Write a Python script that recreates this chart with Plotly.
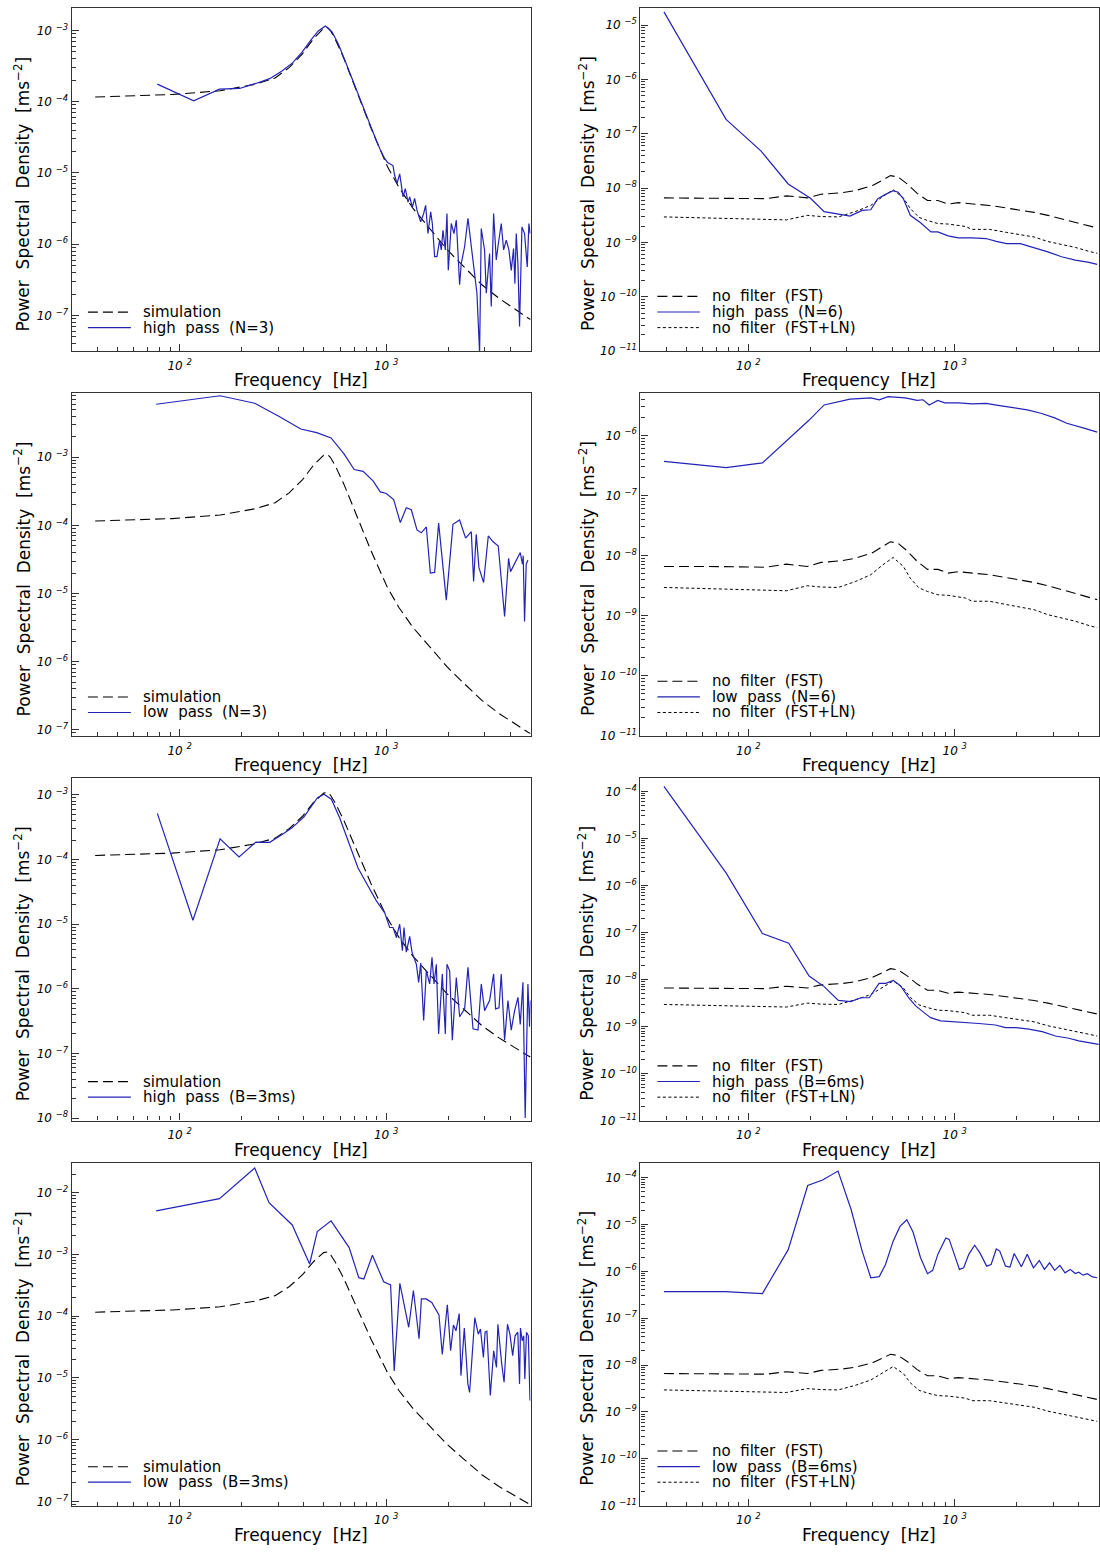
import math
import plotly.graph_objects as go

# ---------------- data ----------------
# Left column: "simulation" (same in all four left panels)
F_SIM = [39, 92, 157, 231, 290, 339, 394, 444, 498, 520, 537, 566, 625, 729, 846, 1014, 1155, 1347,
         1630, 1980, 2400, 2907, 3520, 4260, 4840, 5000]
PSD_SIM = [1.16e-4, 1.26e-4, 1.42e-4, 1.75e-4, 2.15e-4, 3.0e-4, 4.7e-4, 7.6e-4, 1.07e-3, 1.1e-3,
           1.0e-3, 7.6e-4, 4.0e-4, 1.3e-4, 4.2e-5, 1.23e-5, 6.2e-6, 3.2e-6, 1.62e-6, 8.3e-7,
           4.7e-7, 2.7e-7, 1.74e-7, 1.18e-7, 9.3e-8, 8.8e-8]

# high pass (N=3)
F_HP_N3 = [78, 117, 156, 195, 234, 273, 313, 352, 391, 430, 469, 508, 547, 586, 625, 664, 703, 742,
           781, 820, 859, 898, 938, 977, 1016, 1079, 1100, 1129, 1163, 1207, 1238, 1276, 1300, 1339,
           1374, 1410, 1469, 1519, 1553, 1594, 1643, 1673, 1717, 1762, 1815, 1849, 1884, 1934, 1970,
           1999, 2067, 2130, 2186, 2268, 2311, 2398, 2489, 2584, 2681, 2751, 2834, 2887, 2996, 3053,
           3168, 3228, 3313, 3413, 3477, 3608, 3704, 3815, 3930, 4034, 4139, 4201, 4264, 4344, 4425,
           4543, 4679, 4821, 4911, 4985]
PSD_HP_N3 = [1.76e-4, 1.03e-4, 1.5e-4, 1.53e-4, 1.8e-4, 2.1e-4, 2.7e-4, 3.5e-4, 4.9e-4, 7.2e-4,
             9.8e-4, 1.15e-3, 9.5e-4, 6.5e-4, 4.1e-4, 2.6e-4, 1.7e-4, 1.12e-4, 7.6e-5, 5.3e-5,
             3.8e-5, 2.8e-5, 2.1e-5, 1.65e-5, 1.4e-5, 1.27e-5, 9.2e-6, 7.1e-6, 9.7e-6, 4.6e-6,
             6.0e-6, 3.9e-6, 4.6e-6, 3.3e-6, 4.4e-6, 3.0e-6, 2.06e-6, 2.7e-6, 3.5e-6, 1.41e-6,
             2.84e-6, 1.95e-6, 6.7e-7, 6.7e-7, 1.14e-6, 8.3e-7, 1.57e-6, 8.3e-7, 2.7e-6, 4.3e-7,
             1.95e-6, 1.41e-6, 2.17e-6, 2.7e-7, 5.4e-7, 9.2e-7, 2.3e-6, 9.2e-7, 3.5e-7, 2.05e-7,
             3.0e-8, 1.66e-6, 8.3e-7, 2.05e-7, 7.4e-7, 1.34e-7, 2.7e-6, 6.0e-7, 9.2e-7, 1.95e-6,
             8.3e-7, 1.14e-6, 8.3e-7, 4.3e-7, 8.7e-7, 2.8e-7, 1.41e-6, 5.4e-7, 7.0e-8, 1.75e-6,
             1.41e-6, 4.8e-7, 1.95e-6, 1.41e-6]

# low pass (N=3)
F_LP_N3 = [77, 157, 231, 302, 386, 461, 541, 625, 700, 773, 864, 937, 1002, 1087, 1171, 1252, 1324,
           1410, 1480, 1565, 1636, 1717, 1795, 1955, 2106, 2268, 2425, 2584, 2651, 2730, 2814, 2964,
           3122, 3288, 3490, 3745, 3916, 4003, 4458, 4571, 4609, 4679, 4766, 4858]
PSD_LP_N3 = [6.0e-3, 8.0e-3, 6.2e-3, 4.0e-3, 2.6e-3, 2.3e-3, 1.92e-3, 1.12e-3, 6.6e-4, 6.2e-4,
             4.5e-4, 3.1e-4, 2.94e-4, 2.4e-4, 1.1e-4, 1.82e-4, 1.7e-4, 8.6e-5, 7.8e-5, 9.5e-5,
             2.0e-5, 2.04e-5, 1.08e-4, 8.0e-6, 1.04e-4, 1.2e-4, 6.5e-5, 8.1e-5, 1.5e-5, 7.4e-5,
             2.4e-5, 1.45e-5, 7.0e-5, 5.8e-5, 5.0e-5, 4.6e-6, 3.3e-5, 2.1e-5, 4.0e-5, 2.7e-5,
             3.6e-5, 3.9e-6, 2.7e-5, 3.1e-5]

# high pass (B=3ms)
F_HP_B3 = [78, 116, 157, 194, 234, 273, 311, 350, 400, 465, 500, 543, 596, 654, 731, 817, 897, 984,
           1040, 1080, 1121, 1163, 1198, 1220, 1252, 1300, 1334, 1400, 1437, 1470, 1519, 1565, 1625,
           1667, 1705, 1749, 1795, 1870, 1934, 1970, 2030, 2091, 2186, 2269, 2399, 2489, 2555, 2634,
           2785, 2888, 2997, 3169, 3313, 3388, 3519, 3609, 3745, 3888, 4033, 4188, 4347, 4459, 4594,
           4712, 4857, 4947, 5000]
PSD_HP_B3 = [5.2e-4, 1.15e-5, 2.1e-4, 1.1e-4, 1.87e-4, 1.85e-4, 2.4e-4, 3.1e-4, 4.6e-4, 9.1e-4,
             1.03e-3, 8.6e-4, 4.4e-4, 1.9e-4, 7.4e-5, 3.9e-5, 2.3e-5, 1.5e-5, 8.9e-6, 8.9e-6,
             6.2e-6, 1.0e-5, 3.9e-6, 8.9e-6, 3.7e-6, 6.5e-6, 3.7e-6, 2.4e-6, 1.26e-6, 2.5e-6,
             3.25e-7, 1.9e-6, 1.19e-6, 3.07e-6, 1.19e-6, 2.4e-6, 2.0e-7, 1.7e-6, 2.0e-7, 2.4e-6,
             1.9e-6, 1.6e-7, 1.5e-6, 3.7e-7, 4.9e-7, 2.15e-6, 6.6e-7, 2.4e-7, 2.3e-7, 1.19e-6,
             4.6e-7, 6.6e-7, 1.7e-6, 4.9e-7, 5.1e-7, 1.7e-6, 1.6e-7, 6.6e-7, 2.3e-7, 4.6e-7,
             7.4e-7, 2.8e-7, 1.26e-6, 1.0e-8, 1.19e-6, 2.6e-7, 6.6e-7]

# low pass (B=3ms)
F_LP_B3 = [77, 156, 231, 271, 351, 426, 464, 541, 662, 737, 780, 858, 973, 1051, 1094, 1165, 1286,
           1355, 1443, 1481, 1560, 1663, 1802, 1869, 1978, 2052, 2117, 2178, 2258, 2302, 2390, 2487,
           2535, 2686, 2793, 2862, 2957, 3014, 3074, 3193, 3316, 3420, 3475, 3582, 3627, 3723, 3867,
           3973, 4098, 4209, 4339, 4425, 4470, 4560, 4633, 4693, 4780, 4880, 4970]
PSD_LP_B3 = [5.06e-3, 8.0e-3, 2.5e-2, 6.9e-3, 3.0e-3, 7.0e-4, 2.35e-3, 3.5e-3, 1.29e-3, 4.2e-4,
             4.0e-4, 9.7e-4, 3.6e-4, 3.2e-4, 1.3e-5, 3.4e-4, 6.6e-5, 2.6e-4, 4.3e-5, 1.9e-4,
             1.9e-4, 1.67e-4, 1.05e-4, 2.4e-5, 1.53e-4, 2.75e-5, 7.2e-5, 5.8e-5, 1.1e-4, 1.09e-5,
             6.4e-5, 8.0e-6, 5.8e-6, 9.5e-5, 5.1e-5, 6.2e-5, 2.15e-5, 5.5e-5, 5.7e-5, 5.2e-6,
             2.75e-5, 1.48e-5, 7.4e-5, 2.44e-5, 1.68e-5, 8.5e-6, 7.4e-5, 5.1e-5, 2.3e-5, 4.8e-5,
             5.5e-5, 8.0e-6, 6.4e-5, 4.0e-5, 4.8e-5, 9.6e-6, 5.5e-5, 4.8e-5, 4.3e-6]

# Right column: "no filter (FST)" and "no filter (FST+LN)" (same in all four right panels)
F_FST = [39, 63, 122, 153, 193, 225, 283, 330, 400, 448, 488, 532, 586, 658, 738, 828, 929, 1042,
         1214, 1472, 1783, 2079, 2424, 2827, 3293, 3840, 4477, 4900]
PSD_FST = [6.6e-9, 6.6e-9, 6.4e-9, 7.2e-9, 6.6e-9, 7.7e-9, 8.2e-9, 9.0e-9, 1.12e-8, 1.41e-8,
           1.7e-8, 1.6e-8, 1.21e-8, 8.0e-9, 5.9e-9, 5.9e-9, 5.1e-9, 5.4e-9, 5.1e-9, 4.8e-9,
           4.3e-9, 3.96e-9, 3.57e-9, 3.15e-9, 2.7e-9, 2.38e-9, 2.0e-9, 1.85e-9]
F_FSTLN = [39, 74, 122, 153, 193, 225, 273, 330, 392, 448, 503, 564, 609, 671, 738, 828, 929, 1126,
           1214, 1472, 1783, 2079, 2424, 2827, 3293, 3840, 4477, 4900]
PSD_FSTLN = [2.95e-9, 2.77e-9, 2.63e-9, 2.6e-9, 3.15e-9, 3.0e-9, 2.95e-9, 3.7e-9, 4.8e-9, 7.0e-9,
             9.3e-9, 6.6e-9, 4.2e-9, 2.9e-9, 2.53e-9, 2.23e-9, 2.18e-9, 1.97e-9, 1.74e-9, 1.74e-9,
             1.53e-9, 1.38e-9, 1.26e-9, 1.04e-9, 9.1e-10, 8.1e-10, 6.85e-10, 6.3e-10]

# high pass (N=6)
F_HP_N6 = [39, 78, 115, 156, 200, 233, 311, 356, 392, 423, 457, 503, 532, 564, 609, 683, 767, 828,
           929, 1042, 1214, 1417, 1590, 1783, 2079, 2424, 2827, 3293, 3840, 4477, 4900]
PSD_HP_N6 = [1.75e-5, 1.84e-7, 4.85e-8, 1.19e-8, 6.5e-9, 3.7e-9, 3.06e-9, 3.9e-9, 4.0e-9, 6.35e-9,
             7.5e-9, 9.0e-9, 8.4e-9, 6.35e-9, 3.16e-9, 2.3e-9, 1.56e-9, 1.56e-9, 1.32e-9, 1.21e-9,
             1.21e-9, 1.18e-9, 1.05e-9, 9.5e-10, 9.5e-10, 8.0e-10, 6.7e-10, 5.45e-10, 4.74e-10,
             4.3e-10, 3.95e-10]

# low pass (N=6)
F_LP_N6 = [39, 78, 117, 196, 233, 311, 392, 431, 475, 575, 658, 702, 752, 828, 894, 1042, 1214, 1417,
           1652, 1925, 2245, 2616, 3051, 3489, 3840, 4310, 4900]
PSD_LP_N6 = [3.7e-7, 2.9e-7, 3.47e-7, 1.76e-6, 3.2e-6, 4.0e-6, 4.2e-6, 3.9e-6, 4.4e-6, 4.2e-6,
             3.8e-6, 3.9e-6, 3.2e-6, 3.8e-6, 3.46e-6, 3.46e-6, 3.33e-6, 3.4e-6, 3.12e-6, 2.86e-6,
             2.65e-6, 2.33e-6, 1.95e-6, 1.59e-6, 1.46e-6, 1.29e-6, 1.13e-6]

# high pass (B=6ms)
F_HP_B6 = [39, 78, 117, 157, 197, 233, 273, 313, 351, 385, 430, 463, 504, 547, 600, 647, 710, 764,
           855, 973, 1129, 1310, 1577, 1762, 1971, 2286, 2654, 3077, 3570, 3990, 4459, 4980]
PSD_HP_B6 = [1.28e-4, 1.85e-6, 9.5e-8, 5.9e-8, 1.19e-8, 7.06e-9, 3.6e-9, 3.4e-9, 4.1e-9, 4.1e-9,
             8.3e-9, 8.3e-9, 9.6e-9, 7.3e-9, 4.0e-9, 2.75e-9, 1.98e-9, 1.55e-9, 1.32e-9, 1.28e-9,
             1.22e-9, 1.16e-9, 1.08e-9, 9.5e-10, 9.5e-10, 8.8e-10, 7.8e-10, 6.3e-10, 5.65e-10,
             4.97e-10, 4.57e-10, 4.2e-10]

# low pass (B=6ms)
F_LP_B6 = [39, 77, 117, 156, 194, 229, 272, 315, 356, 392, 431, 462, 503, 543, 586, 628, 683, 738,
           782, 828, 905, 940, 995, 1054, 1105, 1170, 1248, 1322, 1428, 1501, 1590, 1652, 1763, 1852,
           1941, 2103, 2245, 2406, 2568, 2720, 2881, 3051, 3232, 3422, 3626, 3840, 3991, 4180, 4392,
           4652, 4900]
PSD_LP_B6 = [3.69e-7, 3.69e-7, 3.35e-7, 2.9e-6, 6.76e-5, 8.9e-5, 1.38e-4, 2.06e-5, 2.7e-6, 7.3e-7,
             7.7e-7, 1.4e-6, 4.4e-6, 9.1e-6, 1.26e-5, 6.9e-6, 1.95e-6, 8.9e-7, 1.05e-6, 2.3e-6,
             5.16e-6, 4.8e-6, 2.3e-6, 1.1e-6, 1.19e-6, 2.3e-6, 3.6e-6, 2.5e-6, 1.29e-6, 1.4e-6,
             3.0e-6, 2.7e-6, 1.29e-6, 1.23e-6, 2.4e-6, 1.25e-6, 2.3e-6, 1.19e-6, 1.7e-6, 1.1e-6,
             1.52e-6, 1.05e-6, 1.34e-6, 9.3e-7, 1.1e-6, 9.0e-7, 9.6e-7, 8.3e-7, 8.9e-7, 7.6e-7,
             7.3e-7]

LEFT_LABELS = ["high pass (N=3)", "low pass (N=3)", "high pass (B=3ms)", "low pass (B=3ms)"]
RIGHT_LABELS = ["high pass (N=6)", "low pass (N=6)", "high pass (B=6ms)", "low pass (B=6ms)"]
LEFT_SERIES = [(F_HP_N3, PSD_HP_N3), (F_LP_N3, PSD_LP_N3), (F_HP_B3, PSD_HP_B3), (F_LP_B3, PSD_LP_B3)]
RIGHT_SERIES = [(F_HP_N6, PSD_HP_N6), (F_LP_N6, PSD_LP_N6), (F_HP_B6, PSD_HP_B6), (F_LP_B6, PSD_LP_B6)]

for fx, fy in LEFT_SERIES + RIGHT_SERIES + [(F_SIM, PSD_SIM), (F_FST, PSD_FST), (F_FSTLN, PSD_FSTLN)]:
    assert len(fx) == len(fy), (len(fx), len(fy))

# ---------------- layout geometry ----------------
W, H = 1100, 1557
X_RANGE = [math.log10(30), math.log10(5000)]
COL_X = [(71.7, 531.0), (641.0, 1100.0)]
ROW_Y = [(8.3, 352.7), (395.0, 739.3), (781.7, 1125.7), (1168.3, 1512.5)]
Y_RANGES = [[(-7.5, -2.69), (-11.0, -4.69)],
            [(-7.09, -2.06), (-11.0, -5.30)],
            [(-8.04, -2.74), (-11.0, -3.72)],
            [(-7.07, -1.52), (-11.0, -3.69)]]

FONT = "DejaVu Sans"
BLUE = "#2323b8"
FRAME = "#333333"
DASH = dict(color="black", width=1.1, dash="10px,5px")
DOT = dict(color="black", width=1.0, dash="3px,2.5px")
SOLID = dict(color=BLUE, width=1.2)

NB = "\u00a0"


def spaced(s):
    return s.replace(" ", NB + " ")


def px_x(x):
    return x / W


def px_y(y):
    return 1 - y / H


X_MINOR = [m * 10 ** e for e in (1, 2, 3) for m in range(2, 10)
           if 30 <= m * 10 ** e <= 5000]


def y_ticks(lo, hi):
    majors = list(range(math.ceil(lo - 1e-9), math.floor(hi + 1e-9) + 1))
    vals = [10.0 ** e for e in majors]
    text = ["10" + NB + "<sup>" + ("\u2212" if e < 0 else "") + str(abs(e)) + "</sup>" for e in majors]
    minor = []
    for e in range(math.floor(lo) - 1, math.ceil(hi) + 1):
        for m in range(2, 10):
            v = m * 10.0 ** e
            if lo <= math.log10(v) <= hi:
                minor.append(v)
    return vals, text, minor


fig = go.Figure()
layout = dict(width=W, height=H, autosize=False, margin=dict(l=0, r=0, t=0, b=0),
              paper_bgcolor="white", plot_bgcolor="white", showlegend=False)
annotations = []
shapes = []

for r in range(4):
    for c in range(2):
        k = r * 2 + 1 + c
        xs = "x" if k == 1 else f"x{k}"
        ys = "y" if k == 1 else f"y{k}"
        x0, x1 = COL_X[c]
        y0, y1 = ROW_Y[r]
        lo, hi = Y_RANGES[r][c]
        yv, yt, ym = y_ticks(lo, hi)

        layout[f"xaxis{k}"] = dict(
            type="log", range=X_RANGE, domain=[px_x(x0), min(1.0, px_x(x1))], anchor=ys,
            showline=True, mirror=True, linecolor=FRAME, linewidth=1.3, showgrid=False,
            zeroline=False, tickmode="array", tickvals=[100, 1000],
            ticktext=["10" + NB + "<sup>2</sup>", "10" + NB + "<sup>3</sup>"],
            ticks="inside", ticklen=7, tickwidth=1, tickcolor=FRAME,
            tickfont=dict(family=FONT, size=12, color="black", style="italic"),
            ticklabelstandoff=3,
            minor=dict(tickmode="array", tickvals=X_MINOR, ticks="inside", ticklen=4,
                       tickwidth=1, tickcolor=FRAME, showgrid=False))
        layout[f"yaxis{k}"] = dict(
            type="log", range=[lo, hi], domain=[px_y(y1), px_y(y0)], anchor=xs,
            showline=True, mirror=True, linecolor=FRAME, linewidth=1.3, showgrid=False,
            zeroline=False, tickmode="array", tickvals=yv, ticktext=yt,
            ticks="inside", ticklen=7, tickwidth=1, tickcolor=FRAME,
            tickfont=dict(family=FONT, size=12, color="black", style="italic"),
            minor=dict(tickmode="array", tickvals=ym, ticks="inside", ticklen=4,
                       tickwidth=1, tickcolor=FRAME, showgrid=False))

        if c == 0:
            fx, fy = LEFT_SERIES[r]
            fig.add_trace(go.Scatter(x=F_SIM, y=PSD_SIM, mode="lines", line=DASH,
                                     xaxis=xs, yaxis=ys, name="simulation"))
            fig.add_trace(go.Scatter(x=fx, y=fy, mode="lines", line=SOLID,
                                     xaxis=xs, yaxis=ys, name=LEFT_LABELS[r]))
            entries = [("simulation", DASH), (LEFT_LABELS[r], SOLID)]
            offsets = [39.2, 23.6]
            lx0, lx1, tx = 88.0, 131.0, 141.0
        else:
            fx, fy = RIGHT_SERIES[r]
            fig.add_trace(go.Scatter(x=F_FST, y=PSD_FST, mode="lines", line=DASH,
                                     xaxis=xs, yaxis=ys, name="no filter (FST)"))
            fig.add_trace(go.Scatter(x=F_FSTLN, y=PSD_FSTLN, mode="lines", line=DOT,
                                     xaxis=xs, yaxis=ys, name="no filter (FST+LN)"))
            fig.add_trace(go.Scatter(x=fx, y=fy, mode="lines", line=SOLID,
                                     xaxis=xs, yaxis=ys, name=RIGHT_LABELS[r]))
            entries = [("no filter (FST)", DASH), (RIGHT_LABELS[r], SOLID),
                       ("no filter (FST+LN)", DOT)]
            offsets = [55.0, 39.3, 23.6]
            lx0, lx1, tx = 658.0, 700.5, 710.5

        # legend drawn by hand
        for (label, sty), off in zip(entries, offsets):
            yy = px_y(y1 - off)
            shapes.append(dict(type="line", xref="paper", yref="paper",
                               x0=px_x(lx0), x1=px_x(lx1), y0=yy, y1=yy,
                               line=dict(color=sty["color"], width=sty["width"],
                                         dash=sty.get("dash", "solid"))))
            annotations.append(dict(text=spaced(label), xref="paper", yref="paper",
                                    x=px_x(tx), y=yy, xanchor="left", yanchor="middle",
                                    showarrow=False,
                                    font=dict(family=FONT, size=15, color="black")))

        # axis titles
        annotations.append(dict(text="Frequency" + NB + " [Hz]", xref="paper", yref="paper",
                                x=px_x((x0 + min(x1, 1100.0 + 1)) / 2.0 if c == 0 else 870.0),
                                y=px_y(y1 + 29.5), xanchor="center", yanchor="middle",
                                showarrow=False, font=dict(family=FONT, size=17, color="black")))
        annotations.append(dict(text="Power" + NB + " Spectral" + NB + " Density" + NB + " [ms<sup>\u22122</sup>]",
                                xref="paper", yref="paper",
                                x=px_x(22.0 if c == 0 else 587.0),
                                y=px_y((y0 + y1) / 2.0 + 14.0), xanchor="center", yanchor="middle",
                                textangle=-90, showarrow=False,
                                font=dict(family=FONT, size=17, color="black")))

layout["annotations"] = annotations
layout["shapes"] = shapes
fig.update_layout(**layout)
fig.write_html("out.html")
